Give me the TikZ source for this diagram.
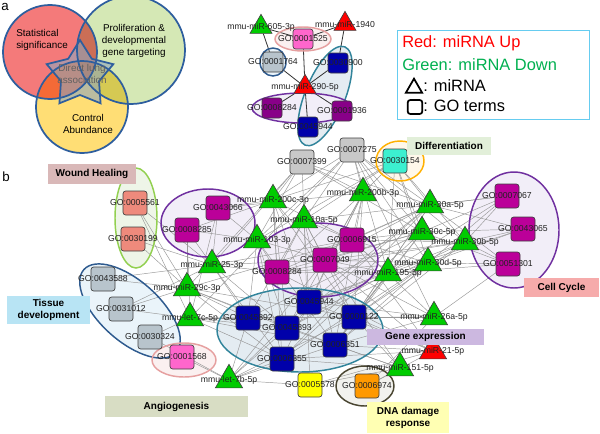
\documentclass[tikz,border=0pt]{standalone}
\usepackage{fontspec}
\setmainfont{Liberation Sans}
\usetikzlibrary{shapes.geometric}
\pgfdeclarelayer{bg}\pgfdeclarelayer{edgel}\pgfdeclarelayer{fg}
\pgfsetlayers{bg,edgel,main,fg}
\definecolor{cgray}{HTML}{C8C8C8}
\definecolor{cturq}{HTML}{3CF0D0}
\definecolor{csalm}{HTML}{EE8A7C}
\definecolor{cmag}{HTML}{BB0099}
\definecolor{cpurp}{HTML}{880088}
\definecolor{cgb}{HTML}{B8C4CC}
\definecolor{cpink}{HTML}{FF66CC}
\definecolor{cnavy}{HTML}{0000AA}
\definecolor{cyel}{HTML}{FFFF00}
\definecolor{corg}{HTML}{FF9900}
\definecolor{cgreen}{HTML}{00CC00}
\definecolor{cred}{HTML}{FF0000}
\definecolor{labtext}{HTML}{222222}
\definecolor{vblue}{HTML}{2E5E9E}
\definecolor{vred}{HTML}{F47A7A}
\definecolor{vgreen}{HTML}{D5E8B5}
\definecolor{vyel}{HTML}{FFDE75}
\definecolor{vstar}{HTML}{8FA6BD}
\definecolor{legcyan}{HTML}{66CCF0}
\definecolor{leggreen}{HTML}{00B050}
\definecolor{bwound}{HTML}{D9B8B8}
\definecolor{bdiff}{HTML}{E2EFD9}
\definecolor{bcell}{HTML}{F6ABAB}
\definecolor{btiss}{HTML}{B8E4F4}
\definecolor{bangio}{HTML}{D8DDC4}
\definecolor{bgene}{HTML}{CCB8E0}
\definecolor{bdna}{HTML}{FFFFB3}
\definecolor{opurp}{HTML}{7030A0}
\definecolor{fpurp}{HTML}{F2EEF8}
\definecolor{ogreen}{HTML}{92D050}
\definecolor{fgreen}{HTML}{EEF5E8}
\definecolor{oblue}{HTML}{2F5B8F}
\definecolor{fblue}{HTML}{EAF4FA}
\definecolor{oteal}{HTML}{31849B}
\definecolor{fteal}{HTML}{E4ECF2}
\definecolor{opink}{HTML}{E6A0A0}
\definecolor{fpink}{HTML}{FBF0F0}
\definecolor{oorg}{HTML}{FFB000}
\definecolor{forg}{HTML}{FFF8EA}
\definecolor{oolive}{HTML}{4A4632}
\definecolor{folive}{HTML}{F2F2EE}
\newcommand\mkgo[5][gosq]{\node[#1,fill=#5] (#2) at (#3) {};\begin{pgfonlayer}{fg}\node[lbl] (#2l) at (#3) {#4};\end{pgfonlayer}}
\newcommand\mkmir[5][mir]{\node[#1,fill=#5] (#2) at (#3) {};\begin{pgfonlayer}{fg}\node[lbl] (#2l) at (#3) {#4};\end{pgfonlayer}}
\newcommand\grp[6]{%
 \begin{pgfonlayer}{bg}\fill[#6, rotate around={#4:(#1)}] (#1) ellipse [x radius=#2, y radius=#3];\end{pgfonlayer}%
 \begin{pgfonlayer}{edgel}\draw[#5, line width=1.1pt, rotate around={#4:(#1)}] (#1) ellipse [x radius=#2, y radius=#3];\end{pgfonlayer}}
\begin{document}
\begin{tikzpicture}[x=0.75pt,y=-0.75pt,
  gosq/.style={rectangle, rounded corners=2pt, draw=black!75, line width=0.5pt, minimum size=18pt, inner sep=0pt},
  gosm/.style={gosq, minimum size=15pt},
  mir/.style={regular polygon, regular polygon sides=3, draw=black!75, line width=0.5pt, minimum size=23.5pt, inner sep=0pt},
  mirsm/.style={mir, minimum size=19pt},
  lbl/.style={font=\fontsize{6.5}{7}\selectfont, text=labtext, inner sep=0pt},
  edge/.style={draw=black!40, line width=0.35pt},
  topedge/.style={draw=black!80, line width=0.6pt},
  catbox/.style={font=\fontsize{7.5}{9}\selectfont\bfseries, inner sep=0pt, align=center},
  vtxt/.style={font=\fontsize{7.4}{9}\selectfont, align=center, inner sep=0pt},
  legtxt/.style={font=\fontsize{12.3}{14}\selectfont, anchor=west, inner sep=0pt}]
\useasboundingbox (0,0) rectangle (600,433);
\begin{pgfonlayer}{bg}\fill[white] (0,0) rectangle (600,433);\end{pgfonlayer}

% ---------- panel a ----------
\node[font=\fontsize{10}{12}\selectfont, inner sep=0pt] (pa) at (5,7) {a};
\begin{scope}[blend group=multiply]
\fill[vgreen] (131,50) circle [radius=54];
\fill[vred] (50,52) circle [radius=47];
\fill[vyel] (82,107) circle [radius=46];
\end{scope}
\fill[vstar, fill opacity=0.6]
  (80,40) -- (91.8,58.8) -- (113.3,64.2) -- (99,81.2) -- (100.6,103.3) -- (80,95) -- (59.4,103.3) -- (61,81.2) -- (46.7,64.2) -- (68.2,58.8) -- cycle;
\draw[vblue, line width=1.3pt] (131,50) circle [radius=54];
\draw[vblue, line width=1.3pt] (50,52) circle [radius=47];
\draw[vblue, line width=1.3pt] (82,107) circle [radius=46];
\draw[vblue, line width=1.3pt]
  (80,40) -- (91.8,58.8) -- (113.3,64.2) -- (99,81.2) -- (100.6,103.3) -- (80,95) -- (59.4,103.3) -- (61,81.2) -- (46.7,64.2) -- (68.2,58.8) -- cycle;
\node[vtxt, align=left, anchor=west] (ta1) at (16,40) {Statistical\\significance};
\node[vtxt] (ta2) at (134,41) {Proliferation \&\\developmental\\gene targeting};
\node[vtxt, text=black!62] (ta3) at (82,74) {Direct lung\\association};
\node[vtxt] (ta4) at (88,124) {Control\\Abundance};

% legend
\node[draw=legcyan, line width=0.9pt, minimum width=144pt, minimum height=66.75pt, anchor=north west, inner sep=0pt] (legend) at (397,30) {};
\node[legtxt, text=red] (lg1) at (402,43) {Red: miRNA Up};
\node[legtxt, text=leggreen] (lg2) at (402,65) {Green: miRNA Down};
\node[regular polygon, regular polygon sides=3, draw=black, line width=1.3pt, minimum size=14pt, inner sep=0pt] (lgtri) at (414,88) {};
\node[legtxt] (lg3) at (423,86) {: miRNA};
\node[draw=black, rounded corners=2pt, line width=1.3pt, minimum width=11pt, minimum height=10.5pt, inner sep=0pt] (lgsq) at (415,107) {};
\node[legtxt] (lg4) at (423,106) {: GO terms};

% ---------- panel b ----------
\node[font=\fontsize{10}{12}\selectfont, inner sep=0pt] (pb) at (6,177) {b};

% top subnetwork
\mkmir[mirsm]{m605}{261,27}{mmu-miR-605-3p}{cgreen}
\mkmir[mirsm]{m1940}{345,24}{mmu-miR-1940}{cred}
\mkgo[gosm]{t1525}{303,39}{GO:0001525}{cpink}
\mkgo[gosm]{t1764}{273,62}{GO:0001764}{cgb}
\mkgo[gosm]{t30900}{338,63}{GO:0030900}{cnavy}
\mkmir[mirsm]{m290}{305,87}{mmu-miR-290-5p}{cred}
\mkgo[gosm]{t8284}{272,108}{GO:0008284}{cpurp}
\mkgo[gosm]{t1936}{342,111}{GO:0001936}{cpurp}
\mkgo[gosm]{t45944}{308,127}{GO:0045944}{cnavy}

% main GO terms
\mkgo{g7275}{352,150}{GO:0007275}{cgray}
\mkgo{g7399}{302,162}{GO:0007399}{cgray}
\mkgo{g30154}{395,161}{GO:0030154}{cturq}
\mkgo{g5561}{135,203}{GO:0005561}{csalm}
\mkgo{g30199}{133,239}{GO:0030199}{csalm}
\mkgo{g43066}{218,208}{GO:0043066}{cmag}
\mkgo{g8285}{187,230}{GO:0008285}{cmag}
\mkgo{g8284}{277,272}{GO:0008284}{cmag}
\mkgo{g7049}{325,260}{GO:0007049}{cmag}
\mkgo{g6915}{352,240}{GO:0006915}{cmag}
\mkgo{g7067}{507,196}{GO:0007067}{cmag}
\mkgo{g43065}{523,229}{GO:0043065}{cmag}
\mkgo{g51301}{508,264}{GO:0051301}{cmag}
\mkgo{g43588}{103,279}{GO:0043588}{cgb}
\mkgo{g31012}{121,309}{GO:0031012}{cgb}
\mkgo{g30324}{150,337}{GO:0030324}{cgb}
\mkgo{g1568}{182,357}{GO:0001568}{cpink}
\mkgo{g45944}{309,302}{GO:0045944}{cnavy}
\mkgo{g45892}{248,318}{GO:0045892}{cnavy}
\mkgo{g45893}{287,328}{GO:0045893}{cnavy}
\mkgo{g122}{354,317}{GO:0000122}{cnavy}
\mkgo{g6351}{335,345}{GO:0006351}{cnavy}
\mkgo{g6355}{282,359}{GO:0006355}{cnavy}
\mkgo{g5578}{310,385}{GO:0005578}{cyel}
\mkgo{g6974}{367,386}{GO:0006974}{corg}

% main miRNAs
\mkmir{m200c}{273,200}{mmu-miR-200c-3p}{cgreen}
\mkmir{m10a}{304,220}{mmu-miR-10a-5p}{cgreen}
\mkmir{m103}{257,240}{mmu-miR-103-3p}{cgreen}
\mkmir{m25}{212,265}{mmu-miR-25-3p}{cgreen}
\mkmir{m29c}{187,288}{mmu-miR-29c-3p}{cgreen}
\mkmir{let7c}{190,318}{mmu-let-7c-5p}{cgreen}
\mkmir{let7b}{229,380}{mmu-let-7b-5p}{cgreen}
\mkmir{m200b}{363,193}{mmu-miR-200b-3p}{cgreen}
\mkmir{m30a}{430,205}{mmu-miR-30a-5p}{cgreen}
\mkmir{m30c}{422,232}{mmu-miR-30c-5p}{cgreen}
\mkmir{m30b}{465,242}{mmu-miR-30b-5p}{cgreen}
\mkmir{m30d}{428,263}{mmu-miR-30d-5p}{cgreen}
\mkmir{m195}{388,273}{mmu-miR-195-5p}{cgreen}
\mkmir{m26a}{434,317}{mmu-miR-26a-5p}{cgreen}
\mkmir{m21}{433,351}{mmu-miR-21-5p}{cred}
\mkmir{m151}{400,368}{mmu-miR-151-5p}{cgreen}

% edges
\begin{pgfonlayer}{edgel}
\foreach \a/\b in {m605/t1525,m605/t1764,m1940/t1525,m1940/t30900,t1525/m290,t1764/m290,t30900/m290,m290/t8284,m290/t1936,m290/t45944}
  \draw[topedge] (\a) -- (\b);
\foreach \g in {g7275,g7399,g30154,g8285,g43066,g6915,g7049,g45944,g45893,g6355,g8284,g122} \draw[edge] (m200c) -- (\g);
\foreach \g in {g7275,g7399,g30154,g7049,g6915,g8284,g45892,g45944,g122,g6351,g7067,g5578} \draw[edge] (m10a) -- (\g);
\foreach \g in {g7275,g7399,g43066,g8285,g8284,g7049,g45893,g45892,g6355,g6351,g30154} \draw[edge] (m103) -- (\g);
\foreach \g in {g5561,g30199,g43588,g8285,g43066,g7399,g7049,g8284,g45892,g45893,g6355,g31012,g6915} \draw[edge] (m25) -- (\g);
\foreach \g in {g5561,g30199,g43588,g31012,g8285,g7399,g45892,g45893,g6351,g6355,g6915,g122} \draw[edge] (m29c) -- (\g);
\foreach \g in {g30324,g31012,g8285,g45892,g45893,g6355,g6351,g122,g7275,g43066,g5561} \draw[edge] (let7c) -- (\g);
\foreach \g in {g1568,g5578,g6355,g45892,g45893,g45944,g6351,g122,g7049,g30324} \draw[edge] (let7b) -- (\g);
\foreach \g in {g7275,g7399,g30154,g6915,g7049,g8284,g45944,g122,g6351,g45893,g43066,g6355} \draw[edge] (m200b) -- (\g);
\foreach \g in {g7067,g43065,g51301,g30154,g7275,g6915,g7049,g8284,g45944,g122,g6351,g45893,g6355,g7399} \draw[edge] (m30a) -- (\g);
\foreach \g in {g7067,g43065,g51301,g30154,g7275,g7399,g6915,g7049,g8284,g122,g6351,g45892,g6355} \draw[edge] (m30c) -- (\g);
\foreach \g in {g7067,g43065,g51301,g30154,g6915,g7049,g8284,g45944,g122,g6351,g45893,g7275} \draw[edge] (m30b) -- (\g);
\foreach \g in {g7067,g43065,g51301,g7275,g6915,g7049,g8284,g45944,g122,g6355,g6351,g30154} \draw[edge] (m30d) -- (\g);
\foreach \g in {g7067,g43065,g51301,g6915,g7049,g8284,g45944,g122,g6351,g45893,g7275,g30154} \draw[edge] (m195) -- (\g);
\foreach \g in {g51301,g6915,g7049,g122,g6351,g45944,g45892,g6974,g7275} \draw[edge] (m26a) -- (\g);
\foreach \g in {g6915,g7049,g122,g6351,g6355,g45944,g6974,g5578,g8284} \draw[edge] (m21) -- (\g);
\foreach \g in {g6974,g122,g6351,g45893,g6355,g7049,g5578} \draw[edge] (m151) -- (\g);
\end{pgfonlayer}

% groups (ellipses)
\grp{303,39}{28}{12}{0}{opink}{fpink}
\grp{273,62}{13}{14}{0}{oblue}{fblue}
\grp{325,96}{53}{20}{68}{oteal}{fteal}
\grp{302,108}{50}{15}{0}{opurp}{fpurp}
\grp{136,218}{21}{50}{0}{ogreen}{fgreen}
\grp{208,223}{47}{34}{0}{opurp}{fpurp}
\grp{318,260}{60}{37}{0}{opurp}{fpurp}
\grp{514,230}{45}{58}{0}{opurp}{fpurp}
\grp{130,311}{62}{30}{-42}{oblue}{fblue}
\grp{300,330}{83}{42}{0}{oteal}{fteal}
\grp{184,360}{32}{17}{0}{opink}{fpink}
\grp{400,161}{24}{20}{0}{oorg}{forg}
\grp{365,386}{29}{20}{0}{oolive}{folive}

% category boxes
\node[catbox, fill=bwound, minimum width=66pt, minimum height=15pt] (cwound) at (92,174) {Wound Healing};
\node[catbox, fill=bdiff, minimum width=63pt, minimum height=13.5pt] (cdiff) at (449,146) {Differentiation};
\node[catbox, fill=bcell, minimum width=56.25pt, minimum height=14.25pt] (ccell) at (561.5,287.5) {Cell Cycle};
\node[catbox, fill=btiss, minimum width=62.25pt, minimum height=21pt] (ctiss) at (48.5,310) {Tissue\\development};
\node[catbox, fill=bangio, minimum width=107.25pt, minimum height=15.75pt] (cangio) at (176.5,406.5) {Angiogenesis};
\node[catbox, fill=bgene, minimum width=87.75pt, minimum height=12pt] (cgene) at (425.5,337) {Gene expression};
\node[catbox, fill=bdna, minimum width=61.5pt, minimum height=23.25pt] (cdna) at (408,417.5) {DNA damage\\response};
\end{tikzpicture}
\end{document}
